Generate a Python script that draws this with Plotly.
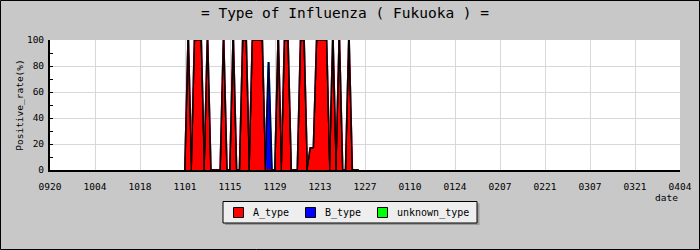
import plotly.graph_objects as go
import pandas as pd

# ---- data (daily positive rate, %) ----
start_date = "2010-11-01"
A_type = [
    0, 100, 0, 100, 100, 100, 0, 100, 0, 0,
    0, 0, 100, 0, 0, 100, 0, 0, 100, 100,
    0, 100, 100, 100, 100, 0, 0, 0, 0, 100,
    0, 100, 100, 0, 0, 0, 100, 100, 0, 17,
    17, 100, 100, 100, 100, 0, 100, 0, 100, 0,
    0, 100, 0, 0, 0,
]
B_type = [0] * 26 + [83] + [0] * 28
unknown_type = [0] * 55

tick_dates = ["2010-09-20", "2010-10-04", "2010-10-18", "2010-11-01", "2010-11-15",
              "2010-11-29", "2010-12-13", "2010-12-27", "2011-01-10", "2011-01-24",
              "2011-02-07", "2011-02-21", "2011-03-07", "2011-03-21", "2011-04-04"]
tick_labels = ["0920", "1004", "1018", "1101", "1115", "1129", "1213", "1227",
               "0110", "0124", "0207", "0221", "0307", "0321", "0404"]

series_names = ["A_type", "B_type", "unknown_type"]
series_colors = ["#ff0000", "#0000ff", "#00ff00"]

dates = pd.date_range(start_date, periods=len(A_type)).strftime("%Y-%m-%d").tolist()

# stacked tops (A at bottom, then B, then unknown)
top_A = list(A_type)
top_B = [a + b for a, b in zip(A_type, B_type)]
top_U = [ab + u for ab, u in zip(top_B, unknown_type)]
tops = {"A_type": top_A, "B_type": top_B, "unknown_type": top_U}

FONT = "DejaVu Sans Mono"

fig = go.Figure()
# filled areas painted from the top layer down, so each lower series covers the one above it
for name, col in reversed(list(zip(series_names, series_colors))):
    fig.add_trace(go.Scatter(
        x=dates, y=tops[name], name=name, fill="tozeroy", mode="lines",
        line=dict(color=col, width=2), fillcolor=col,
        showlegend=False, hoverinfo="x+y+name",
    ))
# black outlines of the stacked areas
for name in series_names:
    fig.add_trace(go.Scatter(
        x=dates, y=tops[name], name=name, mode="lines",
        line=dict(color="black", width=0.9), showlegend=False, hoverinfo="skip",
    ))

W, H = 700, 250
L, R, T, B = 50, 20, 40, 80
pw, ph = W - L - R, H - T - B

def px_x(px):
    return (px - L) / pw

def px_y(py):
    return (H - B - py) / ph

shapes = [
    # legend shadow
    dict(type="rect", xref="paper", yref="paper",
         x0=px_x(225), x1=px_x(479.5), y0=px_y(225), y1=px_y(203.5),
         fillcolor="#9a9a9a", line=dict(width=0)),
    # legend box
    dict(type="rect", xref="paper", yref="paper",
         x0=px_x(223), x1=px_x(477), y0=px_y(223), y1=px_y(201.5),
         fillcolor="#eeeeee", line=dict(color="black", width=1)),
    # outer frame
    dict(type="rect", xref="paper", yref="paper",
         x0=px_x(0.5), x1=px_x(W - 0.5), y0=px_y(H - 0.5), y1=px_y(0.5),
         line=dict(color="black", width=1), fillcolor="rgba(0,0,0,0)"),
]

annotations = [dict(text="date", xref="paper", yref="paper", x=px_x(680), y=px_y(197),
                    xanchor="right", yanchor="middle", showarrow=False,
                    font=dict(family=FONT, size=9.5))]

# legend entries (square + label)
legend_x = [233, 305, 377]
for name, col, lx in zip(series_names, series_colors, legend_x):
    shapes.append(dict(type="rect", xref="paper", yref="paper",
                       x0=px_x(lx + 0.5), x1=px_x(lx + 10.5), y0=px_y(217.5), y1=px_y(207.5),
                       fillcolor=col, line=dict(color="black", width=1)))
    annotations.append(dict(text=name, xref="paper", yref="paper",
                            x=px_x(lx + 18), y=px_y(212.5), xanchor="left", yanchor="middle",
                            showarrow=False, font=dict(family=FONT, size=10)))

fig.update_layout(
    width=W, height=H, autosize=False,
    margin=dict(l=L, r=R, t=T, b=B, pad=0, autoexpand=False),
    paper_bgcolor="#c8c8c8", plot_bgcolor="white",
    font=dict(family=FONT, size=9.5, color="black"),
    title=dict(text="= Type of Influenza ( Fukuoka ) =", x=345 / W, xref="container",
               y=1 - 13 / H, yref="container", yanchor="middle", xanchor="center",
               font=dict(family=FONT, size=14.5, color="black")),
    xaxis=dict(type="date", range=[tick_dates[0], tick_dates[-1]],
               tickvals=tick_dates, ticktext=tick_labels,
               showgrid=True, gridcolor="#d8d8d8", gridwidth=1,
               showline=True, linecolor="black", linewidth=2,
               ticks="", ticklabelstandoff=7, zeroline=False, fixedrange=True),
    yaxis=dict(range=[0, 100], dtick=20, tick0=0,
               showgrid=True, gridcolor="#d8d8d8", gridwidth=1,
               showline=True, linecolor="black", linewidth=2,
               ticks="inside", ticklen=3, tickcolor="black", tickwidth=1,
               minor=dict(dtick=10, ticks="inside", ticklen=3, tickcolor="black", showgrid=False),
               ticklabelstandoff=2, zeroline=False, fixedrange=True,
               title=dict(text="Positive_rate(%)", standoff=2, font=dict(family=FONT, size=9.5))),
    annotations=annotations,
    shapes=shapes,
    showlegend=False,
)

fig.write_html("out.html")
